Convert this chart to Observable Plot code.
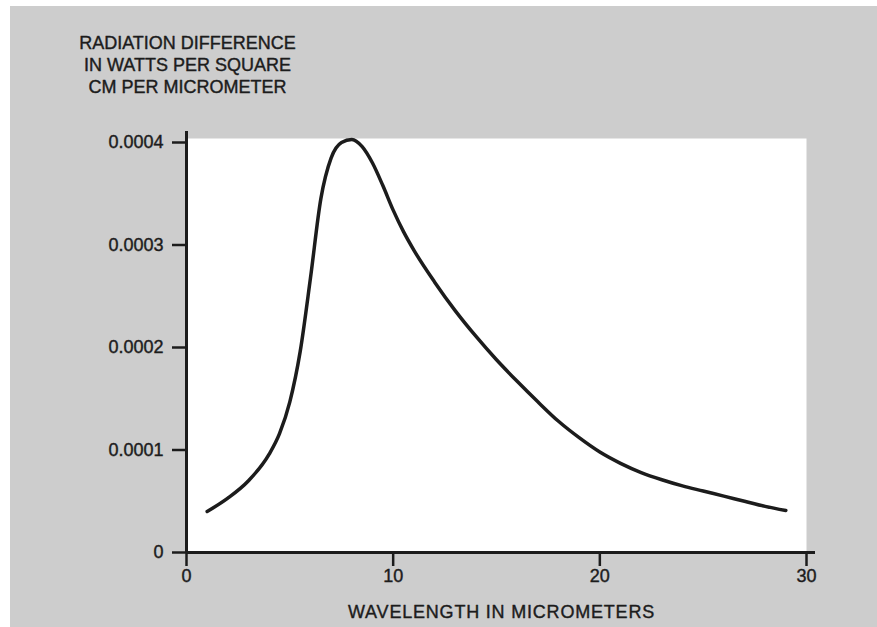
<!DOCTYPE html>
<html>
<head>
<meta charset="utf-8">
<script src="https://cdn.jsdelivr.net/npm/d3@7"></script>
<script src="https://cdn.jsdelivr.net/npm/@observablehq/plot@0.6"></script>
<style>
  html, body { margin: 0; padding: 0; }
  body {
    width: 877px; height: 627px; overflow: hidden;
    background: linear-gradient(#cdcdcd, #cdcdcd) 10px 6px / 100% 100% no-repeat, #ffffff;
    font-family: "Liberation Sans", Arial, Helvetica, sans-serif;
  }
  svg { display: block; background: transparent !important; }
</style>
</head>
<body>
<div id="chart"></div>
<script>
// Data
const wavelength = [1, 2, 3, 4, 4.5, 5, 5.5, 6, 6.5, 7, 7.5, 8, 8.5, 9, 9.5, 10, 10.5, 11, 12, 13, 14, 15, 16, 17, 18, 19, 20, 21, 22, 23, 24, 25, 26, 27, 28, 29];
const radiation = [0.0000400, 0.0000530, 0.0000700, 0.0000960, 0.000116, 0.000147, 0.000196, 0.000268, 0.000345, 0.000385, 0.000400, 0.000403, 0.000396, 0.000380, 0.000358, 0.000334, 0.000313, 0.000295, 0.000264, 0.000236, 0.000211, 0.000188, 0.000167, 0.000147, 0.000128, 0.000112, 0.000098, 0.000087, 0.000078, 0.000071, 0.000065, 0.000060, 0.000055, 0.000050, 0.000045, 0.000041];
const xTicks = [0, 10, 20, 30];
const yTicks = [0, 0.0001, 0.0002, 0.0003, 0.0004];
const yTickLabels = ["0", "0.0001", "0.0002", "0.0003", "0.0004"];
const titleText = "RADIATION DIFFERENCE\nIN WATTS PER SQUARE\nCM PER MICROMETER";
const xLabelText = "WAVELENGTH IN MICROMETERS";

const data = wavelength.map((w, i) => ({w, v: radiation[i]}));
const ink = "#1c1c1c";
const font = "Liberation Sans, Arial, Helvetica, sans-serif";
const heavy = {stroke: ink, strokeWidth: 0.4, paintOrder: "stroke"};

const chart = Plot.plot({
  width: 877,
  height: 627,
  marginLeft: 186,
  marginRight: 71,
  marginTop: 138,
  marginBottom: 75,
  insetTop: 4,
  style: {fontFamily: font, background: "transparent", color: ink},
  x: {domain: [0, 30], axis: null},
  y: {domain: [0, 0.0004], axis: null},
  marks: [
    Plot.frame({fill: "white", stroke: null}),
    Plot.ruleX([0], {stroke: ink, strokeWidth: 3, insetTop: -7}),
    Plot.ruleY([0], {stroke: ink, strokeWidth: 3, insetRight: -9}),
    Plot.axisY({
      ticks: yTicks, tickSize: 14, tickPadding: 9, strokeWidth: 2.5, stroke: ink,
      tickFormat: (d) => yTickLabels[yTicks.indexOf(d)], fontSize: 18, fill: ink, label: null
    }),
    Plot.axisX({
      ticks: xTicks, tickSize: 14, tickPadding: 3, strokeWidth: 2.5, stroke: ink,
      tickFormat: (d) => String(d), fontSize: 18, fill: ink, label: null
    }),
    Plot.line(data, {x: "w", y: "v", curve: "monotone-x", stroke: ink, strokeWidth: 3.5}),
    Plot.text([titleText], {
      frameAnchor: "top-left", textAnchor: "middle", lineAnchor: "middle",
      dx: 1, dy: -74.5, lineHeight: 1.2, fontSize: 18, fill: ink, ...heavy
    }),
    Plot.text([xLabelText], {
      frameAnchor: "bottom", textAnchor: "middle", lineAnchor: "middle",
      dx: 5, dy: 60, fontSize: 18, fill: ink, ...heavy
    })
  ]
});
document.getElementById("chart").appendChild(chart);
const svg = d3.select(chart);
svg.selectAll("text").filter(function() { return this.textContent === xLabelText; })
  .style("letter-spacing", "0.8px");
// slightly heavier tick labels, as in the printed original
svg.selectAll("g[aria-label='y-axis tick label'] text, g[aria-label='x-axis tick label'] text")
  .attr("stroke", ink).attr("stroke-width", 0.4).attr("paint-order", "stroke");
</script>
</body>
</html>
